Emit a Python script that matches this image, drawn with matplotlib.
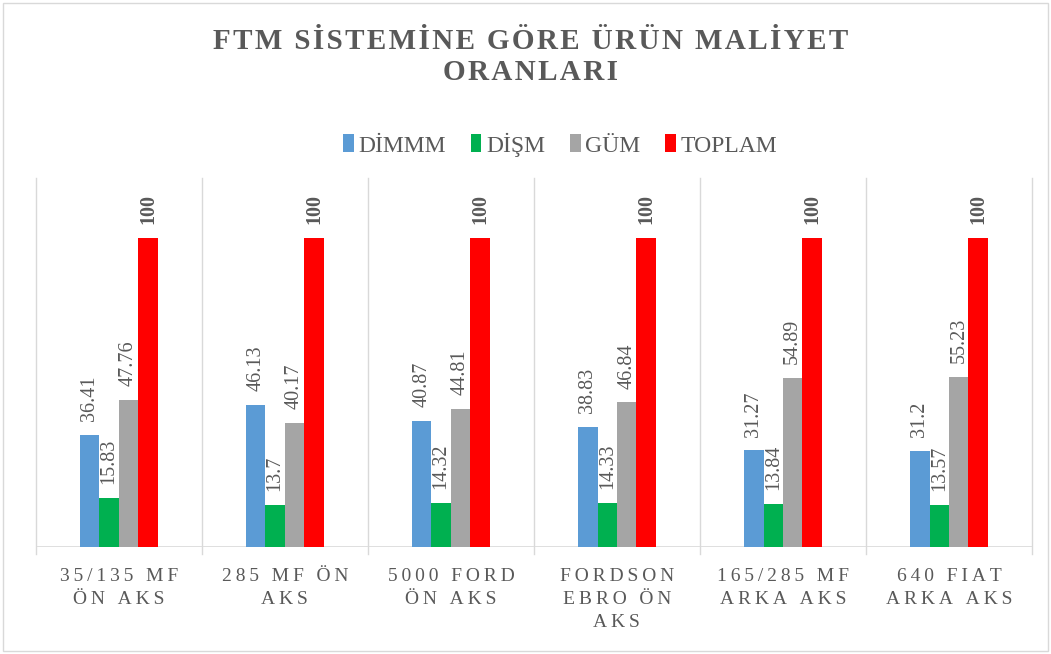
import numpy as np
import matplotlib.pyplot as plt
from matplotlib.patches import Rectangle

plt.rcParams['font.family'] = ['Liberation Serif', 'DejaVu Serif']

# Données du graphique
kategoriler = ["35/135 MF\nÖN AKS", "285 MF ÖN\nAKS", "5000 FORD\nÖN AKS",
               "FORDSON\nEBRO ÖN\nAKS", "165/285 MF\nARKA AKS", "640 FIAT\nARKA AKS"]
seriler = ["DİMMM", "DİŞM", "GÜM", "TOPLAM"]
dimmm = [36.41, 46.13, 40.87, 38.83, 31.27, 31.2]
dism = [15.83, 13.7, 14.32, 14.33, 13.84, 13.57]
gum = [47.76, 40.17, 44.81, 46.84, 54.89, 55.23]
toplam = [100, 100, 100, 100, 100, 100]
renkler = ['#5B9BD5', '#00B050', '#A5A5A5', '#FF0000']

gri = '#595959'


def aralikli(s, sep='\u2009'):
    # espacement des lettres (imitation du style Excel)
    return '\n'.join(sep.join(satir) for satir in s.split('\n'))


fig = plt.figure(figsize=(10.51, 6.54), dpi=100)
ax = fig.add_axes([0.034, 0.1636, 0.948, 0.564])
fig.patches.append(Rectangle((0.003, 0.005), 0.994, 0.99, transform=fig.transFigure,
                             fill=False, edgecolor='#d9d9d9', linewidth=1))

n = len(kategoriler)
x = np.arange(n)
w = 0.117
veriler = [dimmm, dism, gum, toplam]
for i, (ad, deger, renk) in enumerate(zip(seriler, veriler, renkler)):
    pos = x + (i - 1.5) * w
    ax.bar(pos, deger, width=w, color=renk, label=ad, zorder=3)
    for px, v in zip(pos, deger):
        ax.annotate(f"{v:g}", (px, v), xytext=(0, 10), textcoords='offset points',
                    rotation=90, ha='center', va='bottom', fontsize=14.5, color=gri,
                    fontweight='bold' if ad == "TOPLAM" else 'normal')

ax.set_xlim(-0.5, n - 0.5)
ax.set_ylim(0, 119.5)
ax.set_yticks([])
for sep in np.arange(-0.5, n, 1):
    ax.plot([sep, sep], [-2.3, 119.5], color='#d9d9d9', linewidth=1, clip_on=False, zorder=1)
ax.axhline(0, color='#d9d9d9', linewidth=1.2, zorder=2)
for s in ax.spines.values():
    s.set_visible(False)

ax.set_xticks(x)
ax.set_xticklabels([aralikli(k) for k in kategoriler], fontsize=14, color=gri, linespacing=1.45)
ax.tick_params(axis='x', length=0, pad=15)

fig.text(0.505, 0.957, aralikli("FTM SİSTEMİNE GÖRE ÜRÜN MALİYET\nORANLARI", '\u200a'),
         ha='center', va='top', fontsize=21, fontweight='bold', color=gri, linespacing=1.2)

leg = fig.legend(loc='center', bbox_to_anchor=(0.533, 0.779), ncol=4, frameon=False,
                 fontsize=17, handlelength=0.45, handleheight=0.8, handletextpad=0.2,
                 columnspacing=1.05)
for t in leg.get_texts():
    t.set_color(gri)

fig.savefig('out.png', dpi=100)
